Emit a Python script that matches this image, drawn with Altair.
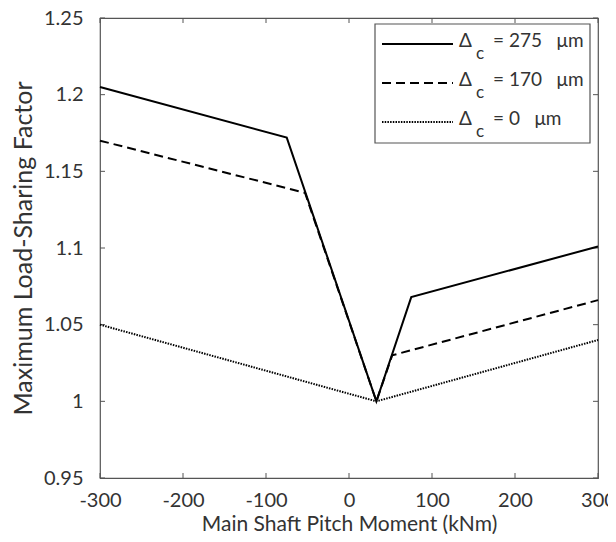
import altair as alt
import pandas as pd

# Series values
x_solid = [-300, -75, 33, 75, 300]
y_solid = [1.205, 1.172, 1.0, 1.068, 1.101]
x_dash = [-300, -53, 33, 52, 300]
y_dash = [1.170, 1.136, 1.0, 1.030, 1.066]
x_dot = [-300, 33, 300]
y_dot = [1.050, 1.0, 1.040]

x_ticks = [-300, -200, -100, 0, 100, 200, 300]
y_ticks = [0.95, 1.0, 1.05, 1.1, 1.15, 1.2, 1.25]
NB = "\u00a0"
legend_vals = ["= 275" + NB * 3 + "\u03bcm", "= 170" + NB * 3 + "\u03bcm", "= 0" + NB * 3 + "\u03bcm"]

W, H = 498, 460
FONT = "Lato"
GRAY = "#555555"
TXT = "#333333"

xs = alt.Scale(domain=[-300, 300], nice=False, zero=False)
ys = alt.Scale(domain=[0.95, 1.25], nice=False, zero=False)

def series(xv, yv, dash):
    df = pd.DataFrame({"x": xv, "y": yv, "o": range(len(xv))})
    kw = dict(color="black", strokeWidth=2)
    if dash:
        kw["strokeDash"] = dash
    return alt.Chart(df).mark_line(**kw).encode(
        x=alt.X("x:Q", scale=xs),
        y=alt.Y("y:Q", scale=ys),
        order="o:Q",
    )

xaxis = alt.Axis(values=x_ticks, labelExpr="toString(datum.value)", ticks=False, tickSize=0,
                 domain=False, grid=False, labelPadding=12, labelFontSize=20, labelFont=FONT,
                 labelColor=TXT, labelFlush=False, labelOverlap=False,
                 title="Main Shaft Pitch Moment (kNm)", titleFont=FONT,
                 titleFontSize=21, titleFontWeight="normal", titleColor=TXT, titlePadding=3)
yaxis = alt.Axis(values=y_ticks, labelExpr="toString(datum.value)", ticks=False, tickSize=0,
                 domain=False, grid=False, labelPadding=17, labelFontSize=20, labelFont=FONT,
                 labelColor=TXT, labelFlush=False, labelOverlap=False,
                 title="Maximum Load-Sharing Factor", titleFont=FONT,
                 titleFontSize=25, titleFontWeight="normal", titleColor=TXT, titlePadding=7)

base_df = pd.DataFrame({"x": x_ticks[:1], "y": y_ticks[:1]})
axes_layer = alt.Chart(base_df).mark_point(opacity=0).encode(
    x=alt.X("x:Q", scale=xs, axis=xaxis),
    y=alt.Y("y:Q", scale=ys, axis=yaxis),
)

xt = pd.DataFrame({"x": x_ticks})
yt = pd.DataFrame({"y": y_ticks})
tk = dict(color=GRAY, strokeWidth=1)
ticks = [
    alt.Chart(xt).mark_rule(**tk).encode(x=alt.X("x:Q", scale=xs), y=alt.value(H), y2=alt.value(H - 5)),
    alt.Chart(xt).mark_rule(**tk).encode(x=alt.X("x:Q", scale=xs), y=alt.value(0), y2=alt.value(5)),
    alt.Chart(yt).mark_rule(**tk).encode(y=alt.Y("y:Q", scale=ys), x=alt.value(0), x2=alt.value(5)),
    alt.Chart(yt).mark_rule(**tk).encode(y=alt.Y("y:Q", scale=ys), x=alt.value(W), x2=alt.value(W - 5)),
]

one = pd.DataFrame({"a": [0]})
box = alt.Chart(one).mark_rect(fill="white", stroke=GRAY, strokeWidth=1.2).encode(
    x=alt.value(275), x2=alt.value(490), y=alt.value(6), y2=alt.value(125))

legend_layers = [box]
dashes = [None, [9, 5], [1.5, 1.2]]
for i, lab in enumerate(legend_vals):
    yy = 26 + 39 * i
    kw = dict(color="black", strokeWidth=2)
    if dashes[i]:
        kw["strokeDash"] = dashes[i]
    legend_layers.append(alt.Chart(one).mark_rule(**kw).encode(
        x=alt.value(282), x2=alt.value(353), y=alt.value(yy)))
    legend_layers.append(alt.Chart(one).mark_text(
        text="\u0394", font=FONT, fontSize=19, color=TXT, align="left", baseline="middle").encode(
        x=alt.value(359), y=alt.value(yy - 3)))
    legend_layers.append(alt.Chart(one).mark_text(
        text="c", font=FONT, fontSize=17, color=TXT, align="left", baseline="middle").encode(
        x=alt.value(376), y=alt.value(yy + 10)))
    legend_layers.append(alt.Chart(one).mark_text(
        text=lab, font=FONT, fontSize=19, color=TXT, align="left", baseline="middle").encode(
        x=alt.value(393), y=alt.value(yy - 3)))

chart = alt.layer(
    axes_layer,
    *ticks,
    series(x_dot, y_dot, [1.5, 1.2]),
    series(x_dash, y_dash, [9, 5]),
    series(x_solid, y_solid, None),
    *legend_layers,
).properties(
    width=W, height=H,
    autosize=alt.AutoSizeParams(type="none"),
    padding={"left": 92, "top": 10, "right": 10, "bottom": 56},
    background="white",
).configure_view(stroke=GRAY, strokeWidth=1.2)

chart.save("out.html", embed_options={"renderer": "svg", "actions": False})
